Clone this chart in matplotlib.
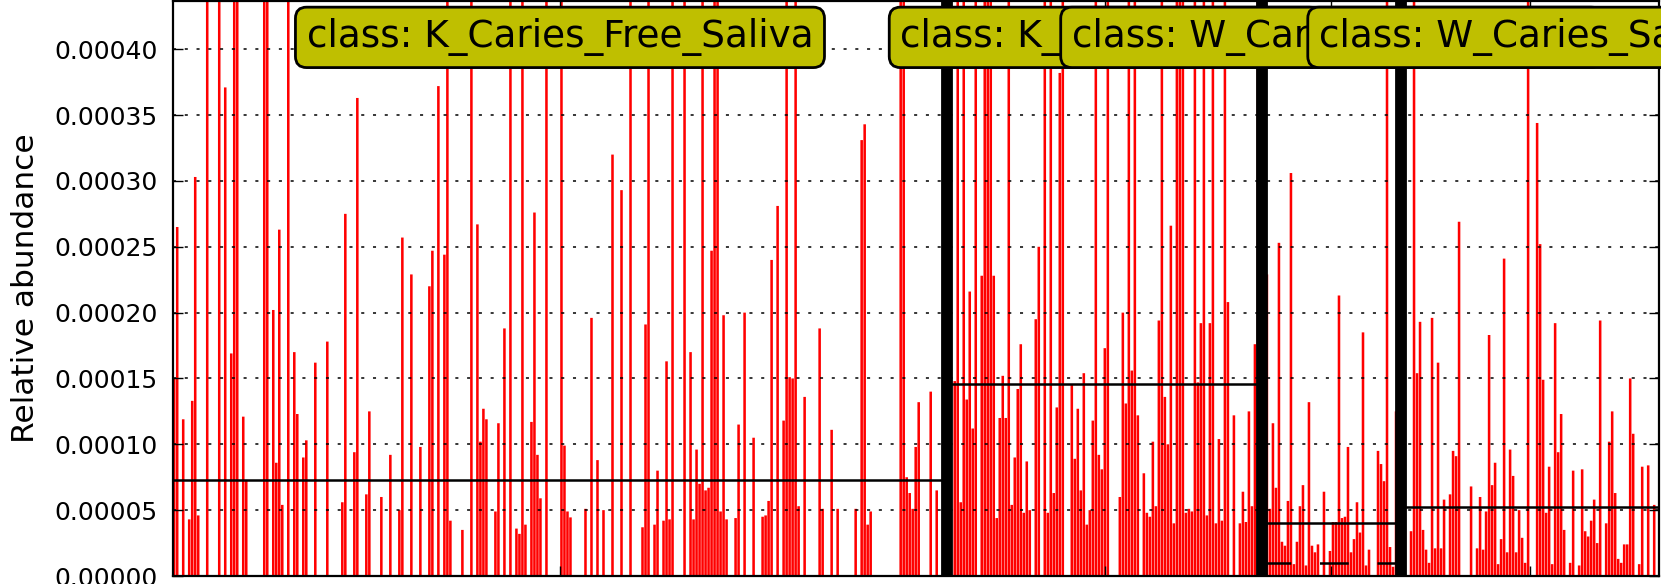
import matplotlib
matplotlib.use("Agg")
import matplotlib.pyplot as plt
import numpy as np

plt.rcParams["font.family"] = ["DejaVu Sans"]

class_names = ["K_Caries_Free_Saliva", "K_Caries_Saliva",
               "W_Caries_Free_Saliva", "W_Caries_Saliva"]
class_sizes = [258, 105, 46, 86]
class_means = [7.26e-5, 1.455e-4, 4.0e-5, 5.21e-5]
class_medians = [0.0, 0.0, 9.6e-6, 0.0]

# non-zero relative abundance per sample (sample number inside the class);
# samples not listed are 0. 6e-4 marks bars running off the top.
k_free = {
    0: 1.50e-4, 1: 2.65e-4, 3: 1.19e-4, 5: 4.3e-5, 6: 1.33e-4, 7: 3.03e-4, 8: 4.6e-5,
    11: 6e-4, 15: 6e-4, 17: 3.71e-4, 19: 1.69e-4, 20: 6e-4, 21: 6e-4, 23: 1.21e-4,
    24: 7.3e-5, 30: 6e-4, 31: 6e-4, 33: 2.02e-4, 34: 8.6e-5, 35: 2.63e-4, 36: 5.4e-5,
    38: 6e-4, 40: 1.70e-4, 41: 1.23e-4, 43: 9.0e-5, 44: 1.03e-4, 47: 1.62e-4,
    51: 1.78e-4, 56: 5.6e-5, 57: 2.75e-4, 60: 9.4e-5, 61: 3.63e-4, 64: 6.2e-5,
    65: 1.25e-4, 69: 6.0e-5, 72: 9.2e-5, 75: 5.0e-5, 76: 2.57e-4, 79: 2.29e-4,
    82: 9.8e-5, 85: 2.2e-4, 86: 2.47e-4, 88: 3.72e-4, 90: 2.44e-4, 91: 6e-4,
    92: 4.2e-5, 96: 3.5e-5, 99: 6e-4, 101: 2.67e-4, 102: 1.02e-4, 103: 1.27e-4,
    104: 1.19e-4, 107: 4.9e-5, 108: 1.16e-4, 110: 1.88e-4, 112: 6e-4, 114: 3.6e-5,
    115: 3.2e-5, 116: 6e-4, 117: 3.9e-5, 119: 1.17e-4, 120: 2.76e-4, 121: 9.2e-5,
    122: 5.9e-5, 124: 6e-4, 129: 6e-4, 130: 9.9e-5, 131: 4.9e-5, 132: 4.45e-5,
    137: 5.1e-5, 139: 1.96e-4, 141: 8.8e-5, 143: 5.0e-5, 146: 3.2e-4, 149: 2.93e-4,
    152: 6e-4, 156: 3.7e-5, 157: 1.91e-4, 158: 6e-4, 160: 3.9e-5, 161: 8.0e-5,
    163: 4.2e-5, 164: 1.63e-4, 165: 4.3e-5, 166: 6e-4, 170: 6e-4, 172: 1.70e-4,
    173: 4.3e-5, 174: 9.6e-5, 175: 7.0e-5, 176: 6e-4, 177: 6.5e-5, 178: 6.7e-5,
    179: 2.47e-4, 180: 6e-4, 181: 6e-4, 182: 4.9e-5, 183: 1.98e-4, 184: 4.3e-5,
    187: 4.4e-5, 188: 1.15e-4, 190: 2.0e-4, 193: 1.05e-4, 196: 4.5e-5, 197: 4.6e-5,
    198: 5.7e-5, 199: 2.4e-4, 201: 2.81e-4, 203: 1.18e-4, 204: 6e-4, 205: 1.51e-4,
    206: 1.5e-4, 207: 6e-4, 208: 5.3e-5, 210: 1.36e-4, 215: 1.88e-4, 216: 5.1e-5,
    219: 1.11e-4, 221: 5.1e-5, 227: 5.1e-5, 229: 3.31e-4, 230: 3.43e-4, 231: 3.9e-5,
    232: 4.9e-5, 242: 6e-4, 243: 6e-4, 244: 7.5e-5, 245: 6.3e-5, 246: 5.1e-5,
    247: 9.8e-5, 248: 1.32e-4, 252: 1.40e-4, 254: 6.5e-5,
}
k_caries = {
    2: 1.48e-4, 3: 6e-4, 4: 5.6e-5, 5: 6e-4, 6: 1.34e-4, 7: 2.16e-4, 8: 1.12e-4,
    9: 6e-4, 11: 2.28e-4, 12: 6e-4, 13: 6e-4, 14: 6e-4, 15: 2.28e-4, 16: 4.4e-5,
    17: 1.2e-4, 18: 1.52e-4, 19: 1.2e-4, 20: 6e-4, 21: 5.4e-5, 22: 9.0e-5, 23: 1.42e-4,
    24: 1.76e-4, 25: 4.8e-5, 26: 8.7e-5, 27: 5.0e-5, 29: 1.95e-4, 30: 2.5e-4, 32: 6e-4,
    33: 4.8e-5, 34: 6e-4, 35: 6.3e-5, 36: 1.28e-4, 37: 3.82e-4, 38: 6e-4, 41: 1.45e-4,
    42: 8.9e-5, 43: 1.27e-4, 44: 6.5e-5, 45: 1.54e-4, 46: 3.9e-5, 47: 5.0e-5,
    48: 1.18e-4, 49: 6e-4, 50: 9.2e-5, 51: 8.1e-5, 52: 1.73e-4, 53: 6e-4, 57: 6.0e-5,
    58: 2.0e-4, 59: 1.31e-4, 60: 6e-4, 61: 1.56e-4, 62: 6e-4, 63: 1.22e-4, 65: 7.8e-5,
    66: 4.8e-5, 67: 4.5e-5, 68: 1.02e-4, 69: 5.3e-5, 70: 1.94e-4, 71: 6e-4, 72: 1.36e-4,
    73: 1.0e-4, 74: 2.66e-4, 75: 4.0e-5, 76: 6e-4, 77: 6e-4, 78: 6e-4, 79: 4.8e-5,
    80: 5.1e-5, 81: 4.9e-5, 82: 6e-4, 83: 1.47e-4, 84: 1.92e-4, 85: 6e-4, 86: 4.6e-5,
    87: 1.92e-4, 88: 6e-4, 89: 4.0e-5, 90: 1.04e-4, 91: 4.2e-5, 92: 6e-4, 93: 2.08e-4,
    95: 1.22e-4, 97: 4.0e-5, 98: 6.4e-5, 99: 4.1e-5, 100: 1.25e-4, 101: 5.3e-5,
    102: 1.76e-4, 103: 6e-4, 104: 5.0e-5,
}
w_free = {
    1: 2.29e-4, 2: 5.1e-5, 3: 1.16e-4, 4: 6.7e-5, 5: 2.53e-4, 6: 2.6e-5, 7: 2.3e-5,
    8: 5.7e-5, 9: 3.06e-4, 10: 9e-6, 11: 2.6e-5, 12: 5.3e-5, 13: 6.9e-5, 14: 8e-6,
    15: 1.32e-4, 16: 2.3e-5, 17: 1.8e-5, 18: 2.4e-5, 20: 6.4e-5, 22: 1.9e-5, 23: 4.1e-5,
    24: 4.1e-5, 25: 2.13e-4, 26: 4.4e-5, 27: 4.5e-5, 28: 9.8e-5, 29: 1.8e-5, 30: 2.8e-5,
    31: 5.6e-5, 32: 3.3e-5, 33: 1.85e-4, 34: 8e-6, 35: 2.0e-5, 38: 9.5e-5, 39: 8.5e-5,
    40: 7.2e-5, 41: 6e-4, 42: 2.2e-5, 43: 7e-6, 44: 1.25e-4, 45: 2.2e-5,
}
w_caries = {
    3: 3.4e-5, 4: 6e-4, 5: 1.54e-4, 6: 1.93e-4, 7: 3.5e-5, 8: 2.0e-5, 9: 1.0e-5,
    10: 1.96e-4, 11: 2.1e-5, 12: 1.62e-4, 13: 2.1e-5, 14: 5.8e-5, 16: 6.2e-5,
    17: 9.5e-5, 18: 9.1e-5, 19: 2.69e-4, 23: 6.8e-5, 25: 2.1e-5, 26: 6.0e-5, 27: 2.0e-5,
    28: 4.9e-5, 29: 1.83e-4, 30: 6.9e-5, 31: 8.6e-5, 32: 9e-6, 33: 2.8e-5, 34: 2.41e-4,
    35: 1.8e-5, 36: 9.6e-5, 37: 7.6e-5, 38: 1.8e-5, 39: 5.0e-5, 40: 2.9e-5, 41: 1.0e-5,
    42: 6e-4, 45: 3.44e-4, 46: 2.52e-4, 47: 1.49e-4, 48: 4.8e-5, 49: 8.3e-5, 50: 9e-6,
    51: 1.92e-4, 52: 9.4e-5, 53: 1.23e-4, 54: 3.5e-5, 56: 1.0e-5, 57: 8.0e-5, 59: 8e-6,
    60: 8.1e-5, 61: 3.4e-5, 62: 3.0e-5, 63: 4.2e-5, 64: 5.8e-5, 65: 2.5e-5, 66: 1.94e-4,
    68: 4.0e-5, 69: 1.02e-4, 70: 1.25e-4, 71: 6.3e-5, 72: 1.3e-5, 73: 1e-5, 74: 2.4e-5,
    75: 2.4e-5, 76: 1.5e-4, 77: 1.08e-4, 79: 9e-6, 80: 8.3e-5, 82: 8.4e-5, 84: 5.4e-5,
}
class_abund = [k_free, k_caries, w_free, w_caries]

y_ticks = [0.0, 0.00005, 0.0001, 0.00015, 0.0002, 0.00025, 0.0003, 0.00035, 0.0004]
y_max = 0.000437

fig = plt.figure(figsize=(16.61, 5.84), dpi=100)
ax = fig.add_axes([172.7 / 1661, 8 / 584, 1486 / 1661, 575.5 / 584])

starts = np.cumsum([0] + class_sizes[:-1])
ends = np.cumsum(class_sizes)
total = int(ends[-1])

for start, n, abund in zip(starts, class_sizes, class_abund):
    vals = np.zeros(n)
    for i, v in abund.items():
        vals[i] = v
    bars = ax.bar(start + np.arange(n) + 0.5, vals, width=0.85, color="red",
                  linewidth=0, zorder=2)
    for b in bars:
        b.set_snap(False)

# class separators
for b in ends[:-1]:
    ax.axvline(b, color="black", linewidth=8.5, zorder=4)

# class means (solid) and medians (dashed)
for start, end, mean, med in zip(starts, ends, class_means, class_medians):
    ax.plot([start, end], [mean, mean], "-", color="black", linewidth=1.8, zorder=3)
    ax.plot([start, end], [med, med], color="black", linewidth=1.8, zorder=3,
            dashes=(11.5, 11.5))

ax.set_xlim(0, total)
ax.set_ylim(0, y_max)
ax.set_yticks(y_ticks)
ax.set_yticklabels([f"{v:.5f}" for v in y_ticks])
ax.set_xticks((starts + ends) / 2)
ax.set_xticklabels([])
ax.tick_params(axis="both", direction="in", length=7, width=1,
               top=True, right=True, labelsize=18, pad=11)
ax.yaxis.grid(True, color="black", linestyle=(0, (2, 5.7)), linewidth=1.1)
ax.set_axisbelow(False)
for sp in ax.spines.values():
    sp.set_linewidth(1.6)
ax.set_ylabel("Relative abundance", fontsize=22.5, labelpad=10)

for start, end, name in zip(starts, ends, class_names):
    ax.text((start + end) / 2, 4.09e-4, "class: " + name, ha="center", va="center",
            fontsize=26.9, zorder=6,
            bbox=dict(boxstyle="round,pad=0.3", facecolor=(0.75, 0.75, 0.0),
                      edgecolor="black", linewidth=2))

fig.savefig("out.png", dpi=100)
